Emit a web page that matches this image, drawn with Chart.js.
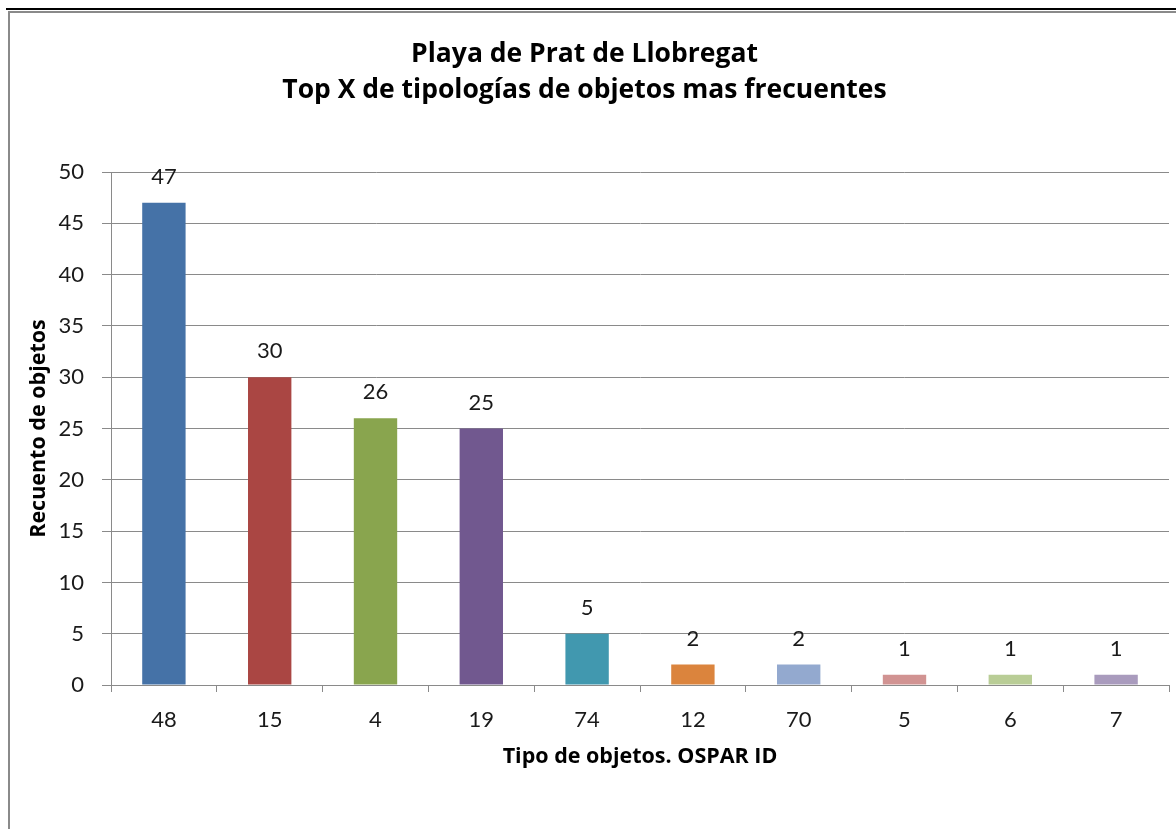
<!DOCTYPE html>
<html>
<head>
<meta charset="utf-8">
<script src="https://cdn.jsdelivr.net/npm/chart.js@4/dist/chart.umd.min.js"></script>
<style>
  html, body { margin: 0; padding: 0; background: #fff; }
  #wrap { position: relative; width: 1176px; height: 829px; overflow: hidden; }
  #myChart { position: absolute; left: 0; top: 0; }
  .edge { position: absolute; pointer-events: none; }
</style>
</head>
<body>
<div id="wrap">
  <canvas id="myChart" width="1176" height="829"></canvas>
  <div class="edge" style="left:6px;top:8px;width:1170px;height:2px;background:#000"></div>
  <div class="edge" style="left:9px;top:11px;width:1167px;height:2px;background:#8a8a8a"></div>
  <div class="edge" style="left:8px;top:11px;width:2px;height:818px;background:#8a8a8a"></div>
</div>
<script>
// OSPAR ids on the x axis and item counts
const ospar_ids = ['48', '15', '4', '19', '74', '12', '70', '5', '6', '7'];
const counts = [47, 30, 26, 25, 5, 2, 2, 1, 1, 1];
const bar_colors = ['#4572A7', '#AA4643', '#89A54E', '#71588F', '#4198AF',
                    '#DB843D', '#93A9CF', '#D19392', '#B9CD96', '#A99BBD'];
const y_ticks = [0, 5, 10, 15, 20, 25, 30, 35, 40, 45, 50];

const title_lines = ['Playa de Prat de Llobregat', 'Top X de tipologías de objetos mas frecuentes'];

const FONT = 'Lato, "Open Sans", sans-serif';
const BOLD_FONT = '"Open Sans", Lato, sans-serif';

// writes the count above each bar
const valueLabels = {
    id: 'valueLabels',
    afterDatasetsDraw(chart) {
        const ctx = chart.ctx;
        const meta = chart.getDatasetMeta(0);
        ctx.save();
        ctx.font = '22px ' + FONT;
        ctx.fillStyle = '#1a1a1a';
        ctx.textAlign = 'center';
        ctx.textBaseline = 'middle';
        meta.data.forEach(function(bar, i) {
            ctx.fillText(String(counts[i]), bar.x, bar.y - 26);
        });
        ctx.restore();
    }
};

var myChart = new Chart('myChart', {
    type: 'bar',
    data: {
        labels: ospar_ids,
        datasets: [{
            data: counts,
            backgroundColor: bar_colors,
            borderWidth: 0,
            categoryPercentage: 1,
            barPercentage: 0.41
        }]
    },
    options: {
        responsive: false,
        animation: false,
        layout: { padding: { left: 0, right: 7, top: 0, bottom: 54 } },
        plugins: {
            legend: { display: false },
            tooltip: { enabled: false },
            title: {
                display: true,
                text: title_lines,
                color: '#000',
                font: { family: BOLD_FONT, size: 26.5, weight: 'bold', lineHeight: 1.36 },
                padding: { top: 36, bottom: 64 }
            }
        },
        scales: {
            x: {
                afterFit(scale) { scale.height = 90; },
                border: { display: true, color: '#8a8a8a', width: 1 },
                grid: { drawOnChartArea: false, drawTicks: true, tickLength: 7, color: '#8a8a8a', offset: true },
                ticks: { color: '#1a1a1a', font: { family: FONT, size: 22 }, padding: 15, maxRotation: 0 },
                title: {
                    display: true,
                    text: 'Tipo de objetos. OSPAR ID',
                    color: '#000',
                    font: { family: BOLD_FONT, size: 21.5, weight: 'bold' },
                    padding: { top: 0, bottom: 5 }
                }
            },
            y: {
                min: 0,
                max: 50,
                afterFit(scale) { scale.width = 111; },
                afterBuildTicks(scale) { scale.ticks = y_ticks.map(v => ({ value: v })); },
                border: { display: true, color: '#8a8a8a', width: 1 },
                grid: { color: '#8a8a8a', lineWidth: 1, tickLength: 9 },
                ticks: { color: '#1a1a1a', font: { family: FONT, size: 22 }, padding: 18 },
                title: {
                    display: true,
                    text: 'Recuento de objetos',
                    color: '#000',
                    font: { family: BOLD_FONT, size: 21.5, weight: 'bold' },
                    padding: { top: 26, bottom: 0 }
                }
            }
        }
    },
    plugins: [valueLabels]
});
</script>
</body>
</html>
